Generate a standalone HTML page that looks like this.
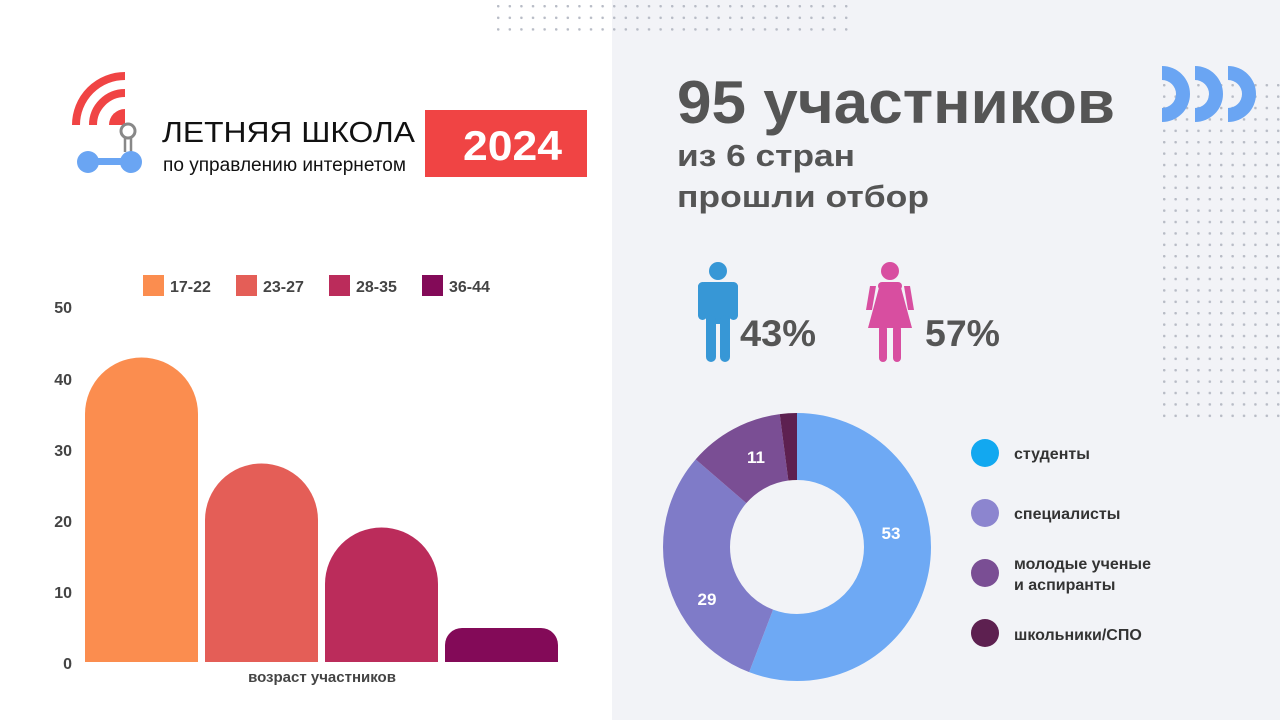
<!DOCTYPE html>
<html><head><meta charset="utf-8"><style>
html,body{margin:0;padding:0;width:1280px;height:720px;overflow:hidden;background:#fff;font-family:"Liberation Sans","DejaVu Sans",sans-serif}
</style></head><body>
<svg width="1280" height="720" xmlns="http://www.w3.org/2000/svg" font-family="Liberation Sans, DejaVu Sans, sans-serif">
<defs>
<pattern id="dots" x="497" y="5" width="11.6" height="11.6" patternUnits="userSpaceOnUse"><circle cx="1.2" cy="1.2" r="1.3" fill="#b8bcc6"/></pattern>
<pattern id="dots2" x="1163" y="84" width="11.4" height="11.4" patternUnits="userSpaceOnUse"><circle cx="1.2" cy="1.2" r="1.3" fill="#b8bcc6"/></pattern>
</defs>
<rect x="0" y="0" width="1280" height="720" fill="#fff"/>
<rect x="612" y="0" width="668" height="720" fill="#f2f3f7"/>
<rect x="495" y="3" width="356" height="28" fill="url(#dots)"/>
<rect x="1160" y="82" width="120" height="342" fill="url(#dots2)"/>
<g fill="#6aa5f3">
<path d="M1162 66 A28 28 0 0 1 1162 122 L1162 108 A14 14 0 0 0 1162 80 Z"/>
<path d="M1195 66 A28 28 0 0 1 1195 122 L1195 108 A14 14 0 0 0 1195 80 Z"/>
<path d="M1228 66 A28 28 0 0 1 1228 122 L1228 108 A14 14 0 0 0 1228 80 Z"/>
</g>
<g fill="none" stroke="#f04444" stroke-width="8">
<path d="M76 125 A49 49 0 0 1 125 76"/>
<path d="M93 125 A32 32 0 0 1 125 93"/>
</g>
<path d="M109 125 A16 16 0 0 1 125 109 L125 125Z" fill="#f04444"/>
<circle cx="128" cy="131" r="7" fill="none" stroke="#888" stroke-width="3"/>
<path d="M125 137 V152 M131 137 V152" stroke="#888" stroke-width="2.5"/>
<rect x="88" y="158" width="42" height="7" fill="#6aa5f3"/>
<circle cx="88" cy="162" r="11" fill="#6aa5f3"/>
<circle cx="131" cy="162" r="11" fill="#6aa5f3"/>
<text x="162" y="142" font-size="29" fill="#111" textLength="253" lengthAdjust="spacingAndGlyphs">ЛЕТНЯЯ ШКОЛА</text>
<text x="163" y="171" font-size="19" fill="#111" textLength="243" lengthAdjust="spacingAndGlyphs">по управлению интернетом</text>
<rect x="425" y="110" width="162" height="67" fill="#f04444"/>
<text x="463" y="160" font-size="42" font-weight="bold" fill="#fff" textLength="99" lengthAdjust="spacingAndGlyphs">2024</text>
<text x="677" y="123" font-size="60" font-weight="bold" fill="#555" textLength="438" lengthAdjust="spacingAndGlyphs">95 участников</text>
<text x="677" y="166" font-size="31" font-weight="bold" fill="#555" textLength="178" lengthAdjust="spacingAndGlyphs">из 6 стран</text>
<text x="677" y="207" font-size="31" font-weight="bold" fill="#555" textLength="252" lengthAdjust="spacingAndGlyphs">прошли отбор</text>
<g fill="#3797d6">
<circle cx="718" cy="271" r="9"/>
<rect x="698" y="282" width="40" height="10" rx="6"/>
<rect x="698" y="282" width="9" height="38" rx="4.5"/>
<rect x="729" y="282" width="9" height="38" rx="4.5"/>
<rect x="706" y="284" width="24" height="40"/>
<rect x="706" y="315" width="10" height="47" rx="5"/>
<rect x="720" y="315" width="10" height="47" rx="5"/>
</g>
<text x="740" y="346" font-size="37" font-weight="bold" fill="#555" textLength="76" lengthAdjust="spacingAndGlyphs">43%</text>
<g fill="#d84ea0">
<circle cx="890" cy="271" r="9"/>
<rect x="878" y="282" width="24" height="8" rx="4"/>
<path d="M880 284 L900 284 L912 328 L868 328 Z"/>
<path d="M870 286 L876 286 L872 310 L866 310Z"/>
<path d="M904 286 L910 286 L914 310 L908 310Z"/>
<rect x="879" y="325" width="8" height="37" rx="4"/>
<rect x="893" y="325" width="8" height="37" rx="4"/>
</g>
<text x="925" y="346" font-size="37" font-weight="bold" fill="#555" textLength="75" lengthAdjust="spacingAndGlyphs">57%</text>
<g transform="rotate(-90 797 547)" fill="none" stroke-width="67">
<circle cx="797" cy="547" r="100.5" stroke="#6ea9f4" stroke-dasharray="352.3 700"/>
<circle cx="797" cy="547" r="100.5" stroke="#7f7bc8" stroke-dasharray="0 352.3 192.76 700"/>
<circle cx="797" cy="547" r="100.5" stroke="#7a4e94" stroke-dasharray="0 545.06 73.12 700"/>
<circle cx="797" cy="547" r="100.5" stroke="#5d2050" stroke-dasharray="0 618.18 13.3 700"/>
</g>
<g font-size="17" font-weight="bold" fill="#fff" text-anchor="middle">
<text x="891" y="539">53</text><text x="707" y="605">29</text><text x="756" y="463">11</text>
</g>
<circle cx="985" cy="453" r="14" fill="#12a8f0"/>
<circle cx="985" cy="513" r="14" fill="#8c85cf"/>
<circle cx="985" cy="573" r="14" fill="#7a4e94"/>
<circle cx="985" cy="633" r="14" fill="#5d2050"/>
<g font-size="16" fill="#333" font-weight="bold">
<text x="1014" y="459">студенты</text>
<text x="1014" y="519">специалисты</text>
<text x="1014" y="569">молодые ученые</text>
<text x="1014" y="590">и аспиранты</text>
<text x="1014" y="640">школьники/СПО</text>
</g>
<g font-size="16" fill="#444" font-weight="bold">
<rect x="143" y="275" width="21" height="21" fill="#fb8d4f"/><text x="170" y="292">17-22</text>
<rect x="236" y="275" width="21" height="21" fill="#e45e57"/><text x="263" y="292">23-27</text>
<rect x="329" y="275" width="21" height="21" fill="#bb2c5b"/><text x="356" y="292">28-35</text>
<rect x="422" y="275" width="21" height="21" fill="#830a58"/><text x="449" y="292">36-44</text>
</g>
<g font-size="16" fill="#444" text-anchor="end" font-weight="bold">
<text x="72" y="313">50</text><text x="72" y="385">40</text><text x="72" y="456">30</text>
<text x="72" y="527">20</text><text x="72" y="598">10</text><text x="72" y="669">0</text>
</g>
<path d="M85 662 V414 A56.5 56.5 0 0 1 198 414 V662Z" fill="#fb8d4f"/>
<path d="M205 662 V520 A56.5 56.5 0 0 1 318 520 V662Z" fill="#e45e57"/>
<path d="M325 662 V584 A56.5 56.5 0 0 1 438 584 V662Z" fill="#bb2c5b"/>
<path d="M445 662 V645 A17 17 0 0 1 462 628 H541 A17 17 0 0 1 558 645 V662Z" fill="#830a58"/>
<text x="322" y="682" font-size="15" font-weight="bold" fill="#444" text-anchor="middle">возраст участников</text>
</svg>
</body></html>
